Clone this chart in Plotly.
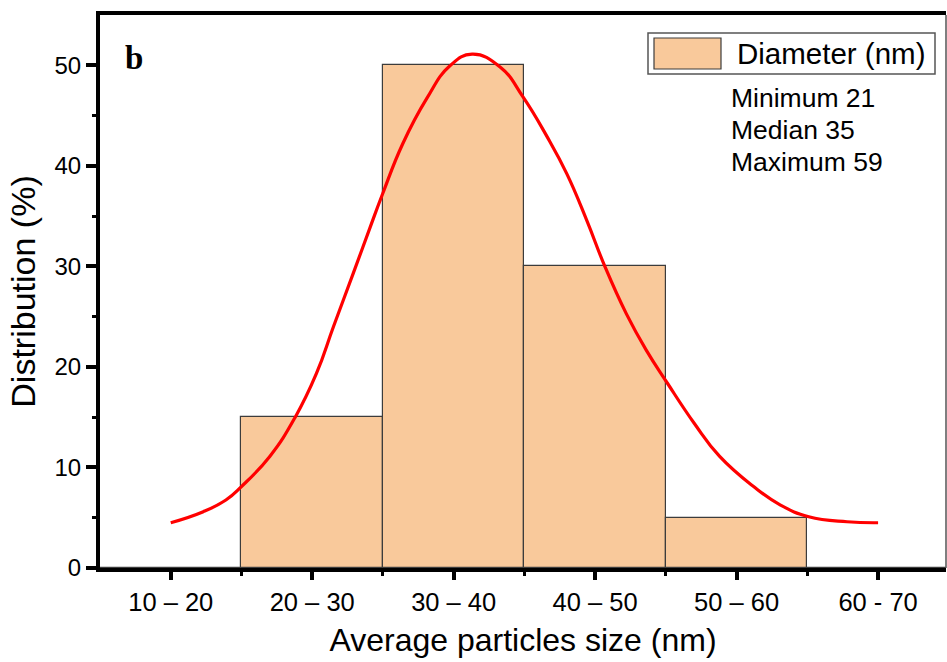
import plotly.graph_objects as go

# Size classes (nm) and their share of particles (%)
size_classes = ["10 – 20", "20 – 30", "30 – 40", "40 – 50", "50 – 60", "60 - 70"]
class_centers = [15, 25, 35, 45, 55, 65]
distribution = [0, 15, 50, 30, 5, 0]

# Fitted distribution curve (nm, %)
fit_x = [15.0, 17.3, 18.9, 20.0, 22.0, 23.8, 25.3, 26.5, 27.9, 29.1, 30.0, 31.4,
         33.1, 34.7, 36.3, 38.3, 39.9, 41.6, 43.0, 44.4, 45.7, 47.2, 48.6, 50.1,
         52.0, 53.8, 56.2, 58.1, 60.1, 62.8, 65.0]
fit_y = [4.5, 5.6, 6.76, 8.1, 11.1, 15.0, 19.35, 24.0, 29.3, 33.9, 37.3, 42.2,
         46.7, 49.9, 51.1, 49.8, 46.85, 42.9, 39.2, 34.6, 29.95, 25.3, 21.7, 18.4,
         14.4, 11.1, 8.1, 6.26, 5.1, 4.6, 4.5]

stats_text = ["Minimum 21", "Median 35", "Maximum 59"]
legend_label = "Diameter (nm)"

W, H = 947, 662
L, R, T, B = 100, 1, 15, 94
PW, PH = W - L - R, H - T - B

def px(x):
    return (x - L) / PW

def py(y):
    return (H - B - y) / PH

SANS = "Arial, Liberation Sans, sans-serif"
BAR_FILL = "#F9C99B"
BAR_EDGE = "#3c3c3c"

fig = go.Figure()
fig.add_trace(go.Bar(
    x=class_centers, y=distribution, width=10,
    marker=dict(color=BAR_FILL, line=dict(color=BAR_EDGE, width=1.2)),
    showlegend=False, hoverinfo="skip",
))
fig.add_trace(go.Scatter(
    x=fit_x, y=fit_y, mode="lines",
    line=dict(color="#FF0000", width=3.2, shape="spline", smoothing=1.3),
    showlegend=False, hoverinfo="skip",
))

shapes = [
    # thin right frame
    dict(type="line", xref="paper", yref="paper", x0=1, x1=1, y0=0, y1=1,
         line=dict(color="#555555", width=1.5)),
    # legend box
    dict(type="rect", xref="paper", yref="paper",
         x0=px(648), x1=px(935), y0=py(74), y1=py(33),
         line=dict(color="#555555", width=1.5), fillcolor="white"),
    dict(type="rect", xref="paper", yref="paper",
         x0=px(654), x1=px(721), y0=py(69), y1=py(38),
         line=dict(color=BAR_EDGE, width=1.2), fillcolor=BAR_FILL),
]

annotations = [
    dict(text=legend_label, xref="paper", yref="paper", x=px(735), y=py(54),
         xanchor="left", yanchor="middle", showarrow=False,
         font=dict(family=SANS, size=29.5, color="black")),
    dict(text="<b>b</b>", xref="paper", yref="paper", x=px(134), y=py(58),
         xanchor="center", yanchor="middle", showarrow=False,
         font=dict(family="Times New Roman, Liberation Serif, serif", size=33, color="black")),
]
for i, t in enumerate(stats_text):
    annotations.append(dict(text=t, xref="paper", yref="paper", x=px(729), y=py(98 + 32 * i),
                            xanchor="left", yanchor="middle", showarrow=False,
                            font=dict(family=SANS, size=26.5, color="black")))

fig.update_layout(
    width=W, height=H,
    margin=dict(l=L, r=R, t=T, b=B),
    paper_bgcolor="white", plot_bgcolor="white",
    bargap=0,
    shapes=shapes,
    annotations=annotations,
    xaxis=dict(
        range=[10, 69.8], tickmode="array", tickvals=class_centers, ticktext=size_classes,
        showline=True, linecolor="black", linewidth=4, mirror=True,
        ticks="outside", ticklen=8, tickwidth=4, tickcolor="black",
        minor=dict(tickmode="array", tickvals=[20, 30, 40, 50, 60], ticks="outside",
                   ticklen=4, tickwidth=3, tickcolor="black"),
        showgrid=False, zeroline=False,
        tickfont=dict(family=SANS, size=25.5, color="black"),
        title=dict(text="Average particles size (nm)", standoff=15,
                   font=dict(family=SANS, size=32, color="black")),
    ),
    yaxis=dict(
        range=[0, 55], tickmode="array", tickvals=[0, 10, 20, 30, 40, 50],
        showline=True, linecolor="black", linewidth=4, mirror=False,
        ticks="outside", ticklen=10, tickwidth=4, tickcolor="black",
        minor=dict(tickmode="array", tickvals=[5, 15, 25, 35, 45], ticks="outside",
                   ticklen=4, tickwidth=3, tickcolor="black"),
        showgrid=False, zeroline=False,
        tickfont=dict(family=SANS, size=24, color="black"),
        title=dict(text="Distribution (%)", standoff=10,
                   font=dict(family=SANS, size=34, color="black")),
    ),
)

fig.write_html("out.html")
